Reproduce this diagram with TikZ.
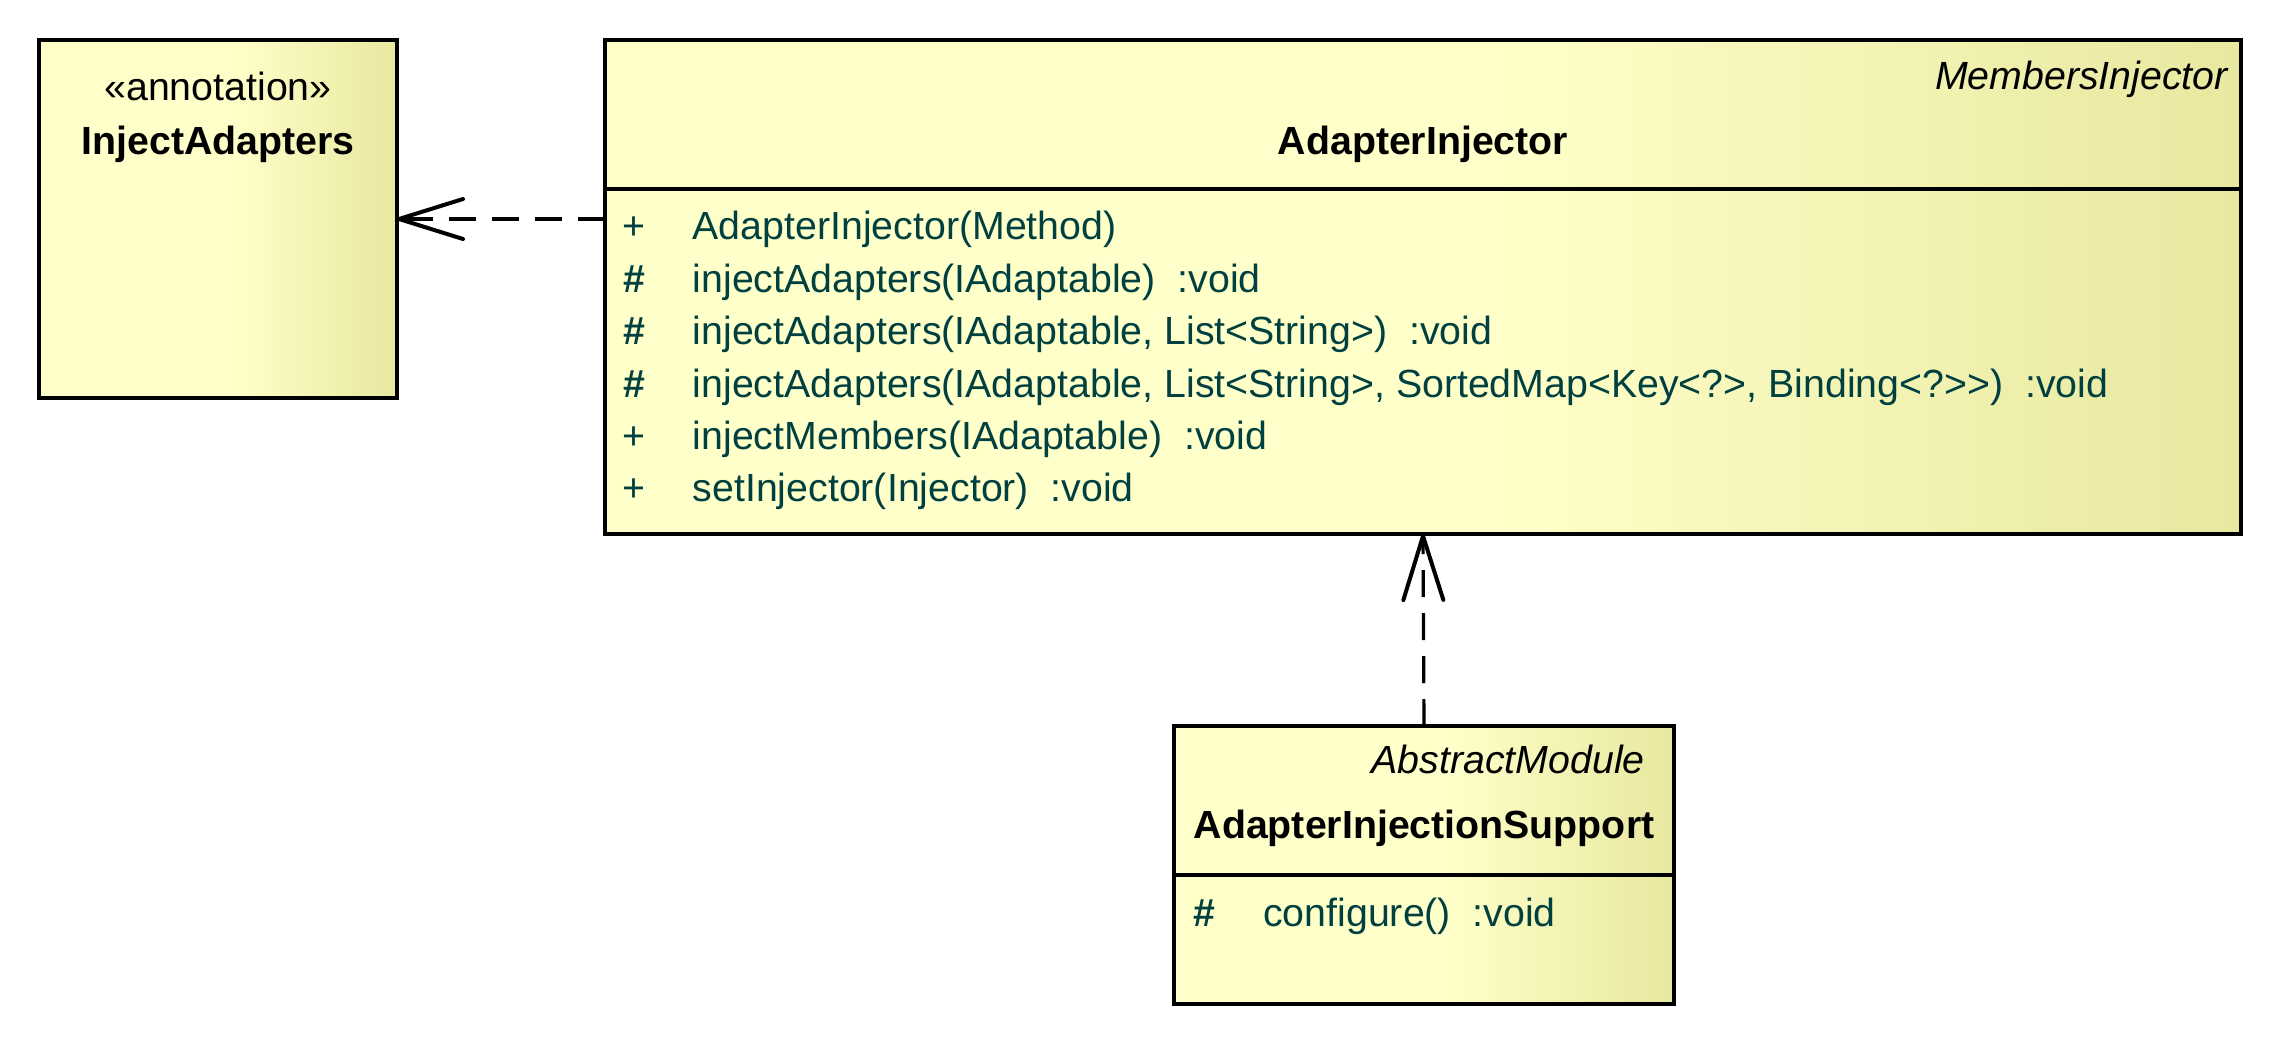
\documentclass[tikz,border=0pt]{standalone}
\usepackage{fontspec}
\setmainfont{Liberation Sans}
\usetikzlibrary{arrows.meta}
\definecolor{uA}{RGB}{255,255,202}
\definecolor{uB}{RGB}{232,232,160}
\definecolor{mem}{RGB}{0,64,64}
\pgfdeclarehorizontalshading{umlfill}{100bp}{color(0bp)=(uA); color(52bp)=(uA); color(75bp)=(uB); color(100bp)=(uB)}
\begin{document}
\begin{tikzpicture}[x=1pt,y=-1pt,
  cls/.style={draw=black, line width=4pt, shade, shading=umlfill, rectangle, inner sep=0pt, outer sep=0pt, anchor=north west},
  txt/.style={inner sep=0pt, font=\fontsize{39.3}{47}\selectfont},
  ttl/.style={txt, font=\fontsize{39.3}{47}\selectfont\bfseries, anchor=base},
  ster/.style={txt, font=\fontsize{39.3}{47}\selectfont\itshape, anchor=base east},
  vis/.style={txt, text=mem, anchor=base},
  memb/.style={txt, text=mem, anchor=base west},
  sep/.style={line width=4pt},
  dep/.style={line width=3.2pt, dash pattern=on 27pt off 16pt, -{Straight Barb[length=64pt,width=40pt,line width=4pt,round]}}
]
\useasboundingbox (0,0) rectangle (2284,1044);
% boxes
\node[cls, minimum width=358pt, minimum height=358pt] (ia) at (39,40) {};
\node[cls, minimum width=1636pt, minimum height=494pt] (ai) at (605,40) {};
\node[cls, minimum width=500pt, minimum height=278pt] (ais) at (1174,726) {};
% dividers
\draw[sep] (605,189) -- (2241,189);
\draw[sep] (1174,875) -- (1674,875);
% InjectAdapters
\node[txt, anchor=base] (iaster) at (218,100) {«annotation»};
\node[ttl] (iattl) at (218,154) {InjectAdapters};
% AdapterInjector
\node[ster] (aister) at (2228,89) {MembersInjector};
\node[ttl] (aittl) at (1423,154) {AdapterInjector};
\node[vis] (v1) at (634,239.5) {+};
\node[memb] (m1) at (692.5,239.5) {AdapterInjector(Method)};
\node[vis] (v2) at (634,292) {\textbf{\#}};
\node[memb] (m2) at (692.5,292) {injectAdapters(IAdaptable)~~:void};
\node[vis] (v3) at (634,344.5) {\textbf{\#}};
\node[memb] (m3) at (692.5,344.5) {injectAdapters(IAdaptable, List<String>)~~:void};
\node[vis] (v4) at (634,397) {\textbf{\#}};
\node[memb] (m4) at (692.5,397) {injectAdapters(IAdaptable, List<String>, SortedMap<Key<?>, Binding<?>{}>)~~:void};
\node[vis] (v5) at (634,449) {+};
\node[memb] (m5) at (692.5,449) {injectMembers(IAdaptable)~~:void};
\node[vis] (v6) at (634,501.5) {+};
\node[memb] (m6) at (692.5,501.5) {setInjector(Injector)~~:void};
% AdapterInjectionSupport
\node[ster] (aisster) at (1645,773) {AbstractModule};
\node[ttl] (aisttl) at (1424,838.5) {AdapterInjectionSupport};
\node[vis] (v7) at (1204,926) {\textbf{\#}};
\node[memb] (m7) at (1263,926) {configure()~~:void};
% connectors
\draw[dep] (ai.west |- ia.east) -- (ia.east);
\draw[dep] (ais.north) -- (ai.south);
\end{tikzpicture}
\end{document}
